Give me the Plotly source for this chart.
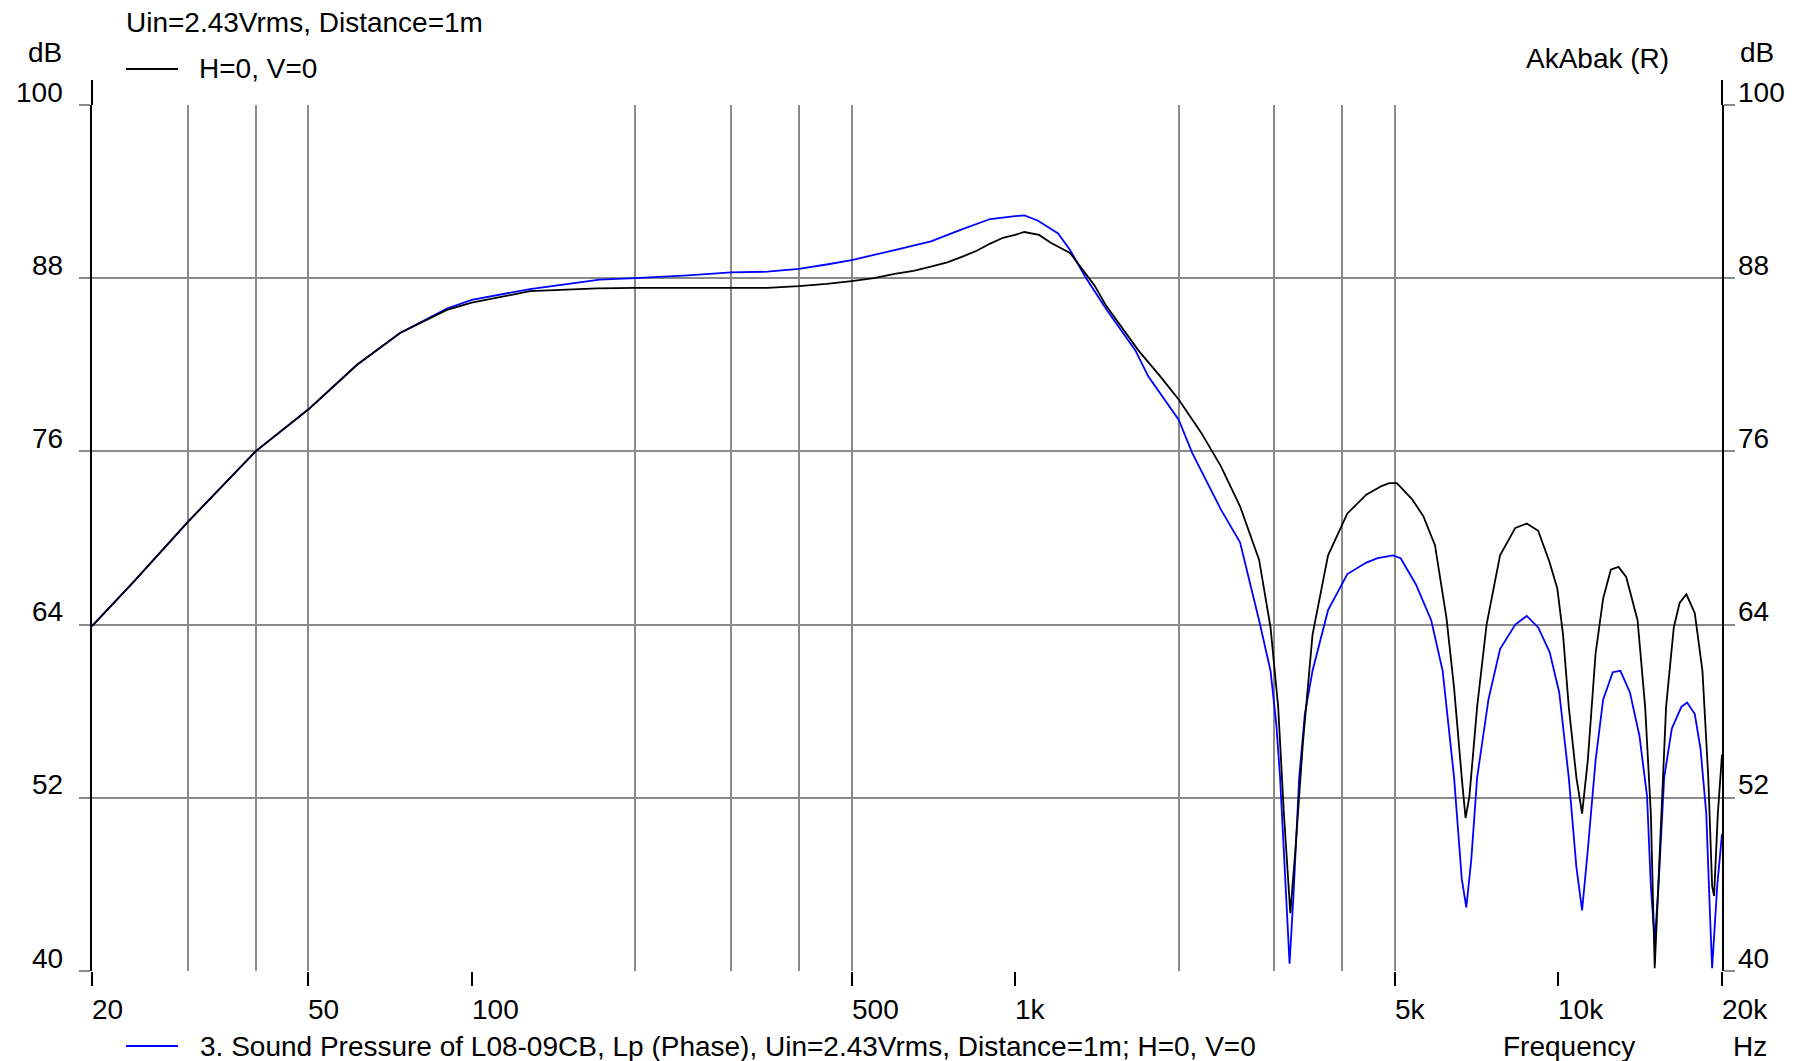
import math
import plotly.graph_objects as go

# ---------------- data ----------------
freq_black = [20, 23.9, 30, 40, 50, 61.5, 73.8, 90, 100, 128,
              170, 200, 300, 350, 400, 450, 500, 550, 600, 650,
              700, 750, 800, 850, 900, 950, 1000, 1040, 1107, 1163,
              1262, 1340, 1400, 1470, 1570, 1686, 1850, 2000, 2200, 2390,
              2594, 2812, 2952, 3049, 3124, 3191, 3210, 3280, 3386, 3527,
              3767, 4088, 4430, 4725, 4880, 5042, 5375, 5643, 5926, 6220,
              6426, 6638, 6746, 6857, 7085, 7375, 7808, 8329, 8743, 9178,
              9634, 9952, 10197, 10448, 10791, 11054, 11326, 11705, 12085, 12485,
              12898, 13325, 13984, 14441, 14794, 15038, 15404, 15780, 16305, 16710,
              17200, 17820, 18410, 18870, 19180, 19340, 19650, 20000]
spl_black = [63.9, 67.0, 71.1, 76.0, 78.9, 82.0, 84.2, 85.8, 86.3, 87.1,
             87.3, 87.33, 87.33, 87.33, 87.45, 87.6, 87.8, 88.0, 88.3, 88.5,
             88.8, 89.1, 89.5, 89.9, 90.4, 90.8, 91.0, 91.2, 91.0, 90.45,
             89.75, 88.4, 87.5, 86.1, 84.6, 83.0, 81.2, 79.6, 77.3, 75.0,
             72.2, 68.5, 63.8, 58.3, 50.9, 45.9, 44.0, 48.4, 55.8, 63.3,
             68.8, 71.7, 73.0, 73.6, 73.8, 73.8, 72.7, 71.5, 69.5, 64.5,
             59.6, 53.4, 50.6, 52.1, 58.3, 64.0, 68.8, 70.7, 71.0, 70.5,
             68.3, 66.5, 63.3, 58.3, 53.4, 50.9, 54.6, 62.0, 65.8, 67.8,
             68.0, 67.3, 64.3, 58.3, 50.9, 40.2, 49.6, 58.3, 63.8, 65.5,
             66.1, 64.8, 60.8, 53.4, 45.9, 45.2, 50.9, 55.0]

freq_blue = [20, 23.9, 30, 40, 50, 61.5, 73.8, 90, 100, 128,
             172, 200, 250, 300, 350, 400, 450, 500, 600, 700,
             800, 900, 1000, 1040, 1100, 1200, 1262, 1346, 1475, 1665,
             1758, 2000, 2118, 2298, 2390, 2594, 2812, 2952, 3025, 3074,
             3124, 3175, 3200, 3253, 3333, 3414, 3527, 3767, 4088, 4430,
             4648, 4959, 5123, 5464, 5832, 6122, 6426, 6638, 6768, 6911,
             7085, 7433, 7808, 8329, 8743, 9178, 9634, 10034, 10448, 10791,
             11054, 11326, 11705, 12085, 12588, 13003, 13540, 14095, 14558, 14794,
             15038, 15280, 15652, 16170, 16838, 17250, 17820, 18260, 18710, 19030,
             19180, 19600, 20000]
spl_blue = [63.9, 67.0, 71.1, 76.0, 78.9, 82.0, 84.2, 85.9, 86.5, 87.25,
            87.9, 88.0, 88.2, 88.4, 88.45, 88.65, 88.95, 89.25, 89.95, 90.55,
            91.4, 92.1, 92.3, 92.35, 92.0, 91.1, 89.96, 88.1, 85.8, 83.0,
            81.2, 78.2, 75.9, 73.3, 72.0, 69.7, 64.3, 60.8, 57.1, 53.4,
            48.4, 43.0, 40.5, 45.2, 53.4, 57.8, 60.8, 65.0, 67.5, 68.3,
            68.6, 68.8, 68.6, 66.8, 64.3, 60.8, 53.4, 46.4, 44.4, 47.7,
            53.4, 58.8, 62.3, 64.0, 64.6, 63.8, 62.1, 59.3, 53.4, 47.2,
            44.2, 48.4, 54.6, 58.8, 60.7, 60.8, 59.3, 56.3, 52.1, 45.9,
            42.0, 45.9, 53.4, 56.8, 58.3, 58.6, 57.8, 55.4, 50.9, 43.4,
            40.2, 45.9, 49.5]

y_ticks = [40, 52, 64, 76, 88, 100]
x_label_vals = [20, 50, 100, 500, 1000, 5000, 10000, 20000]
x_label_text = ["20", "50", "100", "500", "1k", "5k", "10k", "20k"]
x_grid_minor = [20, 30, 40, 50, 200, 300, 400, 500, 2000, 3000, 4000, 5000, 20000]
x_grid_major = [100, 1000, 10000]

title_text = "Uin=2.43Vrms, Distance=1m"
black_name = "H=0, V=0"
blue_name = "3. Sound Pressure of L08-09CB, Lp (Phase), Uin=2.43Vrms, Distance=1m; H=0, V=0"

# ---------------- layout geometry (page pixels; page has an 8px body margin) ----------------
OFF = 8
W, H = 1802 - OFF, 1061 - OFF
L, R, T, B = 92, 1722, 105, 971          # plot-area edges in page pixels
FONT = "Liberation Sans, Arial, sans-serif"
FS = 28
GRID = "#8a8a8a"


def PX(x):
    return (x - L) / (R - L)


def PY(y):
    return (B - y) / (B - T)


fig = go.Figure()
fig.add_trace(go.Scatter(x=freq_blue, y=spl_blue, mode="lines",
                         line=dict(color="#0000ff", width=1.8), name=blue_name))
fig.add_trace(go.Scatter(x=freq_black, y=spl_black, mode="lines",
                         line=dict(color="#000000", width=1.8), name=black_name))

fig.update_layout(
    width=W, height=H,
    margin=dict(l=L - OFF, r=W - (R - OFF), t=T - OFF, b=H - (B - OFF), pad=0),
    plot_bgcolor="white", paper_bgcolor="white",
    showlegend=False,
    font=dict(family=FONT, size=FS, color="black"),
    xaxis=dict(
        type="log", range=[math.log10(20), math.log10(20000)],
        tickmode="array", tickvals=x_label_vals, ticks="outside",
        ticklen=14, tickwidth=2, tickcolor="black",
        showticklabels=False, showgrid=False, zeroline=False, showline=False,
        minor=dict(tickmode="array", tickvals=x_grid_minor, showgrid=True,
                   gridcolor=GRID, gridwidth=2, ticks=""),
    ),
    yaxis=dict(
        range=[40, 100], tickmode="array", tickvals=y_ticks,
        ticks="outside", ticklen=11, tickwidth=2, tickcolor=GRID,
        showticklabels=False, showgrid=True, gridcolor=GRID, gridwidth=2,
        zeroline=False, showline=True, linecolor="black", linewidth=2,
        mirror="ticks",
    ),
)

shapes = []
for v in x_grid_major:
    shapes.append(dict(type="line", xref="x", yref="paper",
                       x0=math.log10(v), x1=math.log10(v), y0=0, y1=1,
                       line=dict(color="black", width=2), layer="below"))
# axis line extensions above the top edge
for xp in (0, 1):
    shapes.append(dict(type="line", xref="paper", yref="paper",
                       x0=xp, x1=xp, y0=1, y1=PY(80),
                       line=dict(color="black", width=2)))
# legend sample lines
shapes.append(dict(type="line", xref="paper", yref="paper",
                   x0=PX(126), x1=PX(178), y0=PY(69), y1=PY(69),
                   line=dict(color="black", width=2)))
shapes.append(dict(type="line", xref="paper", yref="paper",
                   x0=PX(126), x1=PX(178), y0=PY(1046), y1=PY(1046),
                   line=dict(color="#0000ff", width=2)))
fig.update_layout(shapes=shapes)

ann = []


def txt(text, x, y, xanchor="left", **kw):
    ann.append(dict(text=text, xref="paper", yref="paper", x=PX(x), y=PY(y),
                    xanchor=xanchor, yanchor="middle", showarrow=False, **kw))


txt(title_text, 124, 23)
txt("dB", 64, 52, xanchor="right")
txt(black_name, 197, 69)
txt("AkAbak (R)", 1597, 58, xanchor="center")
txt("dB", 1738, 52)
txt(blue_name, 198, 1046)
txt("Frequency", 1569, 1046, xanchor="center")
txt("Hz", 1731, 1046)

for v in y_ticks:
    ann.append(dict(text=str(v), xref="paper", yref="y", x=0, y=v,
                    xanchor="right", yanchor="middle", xshift=-27, yshift=13,
                    showarrow=False))
    ann.append(dict(text=str(v), xref="paper", yref="y", x=1, y=v,
                    xanchor="left", yanchor="middle", xshift=14, yshift=13,
                    showarrow=False))

for v, t in zip(x_label_vals, x_label_text):
    ann.append(dict(text=t, xref="x", yref="paper", x=math.log10(v), y=0,
                    xanchor="left", yanchor="middle", xshift=-2, yshift=-38,
                    showarrow=False))

fig.update_layout(annotations=ann)
fig.write_html("out.html")
